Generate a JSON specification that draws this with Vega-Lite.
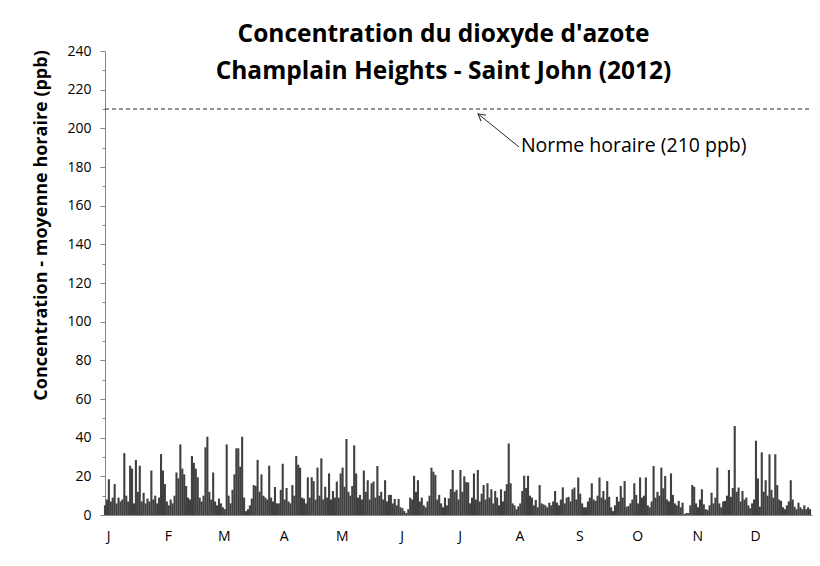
{
"$schema":"https://vega.github.io/schema/vega-lite/v6.json",
"width":707,"height":464,
"autosize":{"type":"none"},
"padding":{"left":105,"top":51,"right":8,"bottom":51},
"background":"white",
"config":{"view":{"stroke":null},"font":"Open Sans","axis":{"labelOverlap":false,"grid":false,"ticks":true}},
"title":{"text":["Concentration du dioxyde d'azote","Champlain Heights - Saint John (2012)"],"font":"Open Sans","fontSize":24.5,"fontWeight":"bold","color":"#000000","anchor":"middle","dx":-15,"dy":44,"lineHeight":37},
"encoding":{
"x":{"field":"d","type":"quantitative","scale":{"domain":[1,367],"nice":false,"zero":false},
"axis":{"title":null,"values":[1,32,61,92,122,153,183,214,245,275,306,336],"labelExpr":"['J','F','M','A','M','J','J','A','S','O','N','D'][indexof([1,32,61,92,122,153,183,214,245,275,306,336], datum.value)]","ticks":false,"domainColor":"#868686","labelFontSize":14,"labelPadding":14,"labelOffset":3,"labelColor":"#000000","labelFlush":false}},
"y":{"field":"v","type":"quantitative","scale":{"domain":[0,240],"nice":false},
"axis":{"title":"Concentration - moyenne horaire (ppb)","titleFontSize":18,"titleFontWeight":"bold","titleColor":"#000000","titlePadding":16,"titleY":174,"values":[0,10,20,30,40,50,60,70,80,90,100,110,120,130,140,150,160,170,180,190,200,210,220,230,240],"labelExpr":"datum.value % 20 === 0 ? datum.label : ''","domainColor":"#868686","tickColor":"#868686","tickSize":{"condition":{"test":"datum.value % 20 === 0","value":5},"value":3},"tickWidth":1,"labelFontSize":14,"labelPadding":9,"labelColor":"#000000"}}
},
"layer":[
{"data":{"values":[
{"d":1,"v":5},{"d":2,"v":8},{"d":3,"v":18.5},{"d":4,"v":7},{"d":5,"v":9},{"d":6,"v":16},{"d":7,"v":6},{"d":8,"v":9},{"d":9,"v":7},{"d":10,"v":8},{"d":11,"v":32},{"d":12,"v":10},{"d":13,"v":7},{"d":14,"v":25.5},{"d":15,"v":24},{"d":16,"v":6},{"d":17,"v":28.5},{"d":18,"v":12},{"d":19,"v":25.5},{"d":20,"v":7},{"d":21,"v":11.5},{"d":22,"v":6},{"d":23,"v":8.5},{"d":24,"v":7},{"d":25,"v":23},{"d":26,"v":8},{"d":27,"v":10},{"d":28,"v":6},{"d":29,"v":9},{"d":30,"v":31.5},{"d":31,"v":23},
{"d":32,"v":16},{"d":33,"v":7},{"d":34,"v":5},{"d":35,"v":8},{"d":36,"v":6},{"d":37,"v":10},{"d":38,"v":22},{"d":39,"v":19},{"d":40,"v":36.5},{"d":41,"v":24},{"d":42,"v":21},{"d":43,"v":15},{"d":44,"v":9},{"d":45,"v":8},{"d":46,"v":30.5},{"d":47,"v":27},{"d":48,"v":24},{"d":49,"v":19.5},{"d":50,"v":9},{"d":51,"v":7},{"d":52,"v":10},{"d":53,"v":35},{"d":54,"v":40.5},{"d":55,"v":12},{"d":56,"v":8},{"d":57,"v":22},{"d":58,"v":7},{"d":59,"v":5},{"d":60,"v":8.5},
{"d":61,"v":6},{"d":62,"v":4},{"d":63,"v":3},{"d":64,"v":36.5},{"d":65,"v":10},{"d":66,"v":6},{"d":67,"v":13},{"d":68,"v":21},{"d":69,"v":34.5},{"d":70,"v":34.5},{"d":71,"v":25},{"d":72,"v":40.5},{"d":73,"v":9},{"d":74,"v":2},{"d":75,"v":3},{"d":76,"v":5},{"d":77,"v":8.5},{"d":78,"v":15.5},{"d":79,"v":15},{"d":80,"v":28.5},{"d":81,"v":12},{"d":82,"v":21},{"d":83,"v":10},{"d":84,"v":9},{"d":85,"v":8},{"d":86,"v":25.5},{"d":87,"v":9},{"d":88,"v":7},{"d":89,"v":14.5},{"d":90,"v":6},{"d":91,"v":6},
{"d":92,"v":13},{"d":93,"v":26.5},{"d":94,"v":8},{"d":95,"v":14},{"d":96,"v":7},{"d":97,"v":6},{"d":98,"v":15.5},{"d":99,"v":10},{"d":100,"v":30.5},{"d":101,"v":26},{"d":102,"v":24.5},{"d":103,"v":9},{"d":104,"v":8.5},{"d":105,"v":6},{"d":106,"v":19.5},{"d":107,"v":9},{"d":108,"v":19.5},{"d":109,"v":17.5},{"d":110,"v":8},{"d":111,"v":24.5},{"d":112,"v":10},{"d":113,"v":29.3},{"d":114,"v":8},{"d":115,"v":14.6},{"d":116,"v":9},{"d":117,"v":21.5},{"d":118,"v":8},{"d":119,"v":12.4},{"d":120,"v":9},{"d":121,"v":17.3},
{"d":122,"v":9},{"d":123,"v":21.5},{"d":124,"v":24.5},{"d":125,"v":14.6},{"d":126,"v":39.3},{"d":127,"v":12},{"d":128,"v":10},{"d":129,"v":15},{"d":130,"v":36},{"d":131,"v":21.5},{"d":132,"v":9},{"d":133,"v":10.4},{"d":134,"v":8},{"d":135,"v":23},{"d":136,"v":12},{"d":137,"v":18},{"d":138,"v":8},{"d":139,"v":16.4},{"d":140,"v":17.3},{"d":141,"v":9},{"d":142,"v":25.3},{"d":143,"v":10},{"d":144,"v":12},{"d":145,"v":8},{"d":146,"v":18},{"d":147,"v":7},{"d":148,"v":10.4},{"d":149,"v":10.4},{"d":150,"v":6},{"d":151,"v":8.3},{"d":152,"v":5},
{"d":153,"v":8.3},{"d":154,"v":4},{"d":155,"v":3.5},{"d":156,"v":2},{"d":157,"v":1},{"d":158,"v":3},{"d":159,"v":9},{"d":160,"v":8},{"d":161,"v":20.3},{"d":162,"v":12},{"d":163,"v":18},{"d":164,"v":7},{"d":165,"v":9},{"d":166,"v":5},{"d":167,"v":4},{"d":168,"v":7},{"d":169,"v":10},{"d":170,"v":24.5},{"d":171,"v":22.4},{"d":172,"v":20.7},{"d":173,"v":8},{"d":174,"v":10.4},{"d":175,"v":6},{"d":176,"v":4},{"d":177,"v":9},{"d":178,"v":5},{"d":179,"v":8.6},{"d":180,"v":13.4},{"d":181,"v":23.3},{"d":182,"v":12},
{"d":183,"v":13},{"d":184,"v":8},{"d":185,"v":23.3},{"d":186,"v":12},{"d":187,"v":20},{"d":188,"v":17},{"d":189,"v":16.8},{"d":190,"v":6},{"d":191,"v":9},{"d":192,"v":21.5},{"d":193,"v":8},{"d":194,"v":23.3},{"d":195,"v":7},{"d":196,"v":11},{"d":197,"v":15.5},{"d":198,"v":8},{"d":199,"v":16.4},{"d":200,"v":9},{"d":201,"v":13.3},{"d":202,"v":6},{"d":203,"v":12.4},{"d":204,"v":9},{"d":205,"v":5},{"d":206,"v":13.3},{"d":207,"v":7},{"d":208,"v":12.4},{"d":209,"v":16},{"d":210,"v":37},{"d":211,"v":16.4},{"d":212,"v":6},{"d":213,"v":5},
{"d":214,"v":3},{"d":215,"v":4.5},{"d":216,"v":6},{"d":217,"v":12.4},{"d":218,"v":20.3},{"d":219,"v":14},{"d":220,"v":20.3},{"d":221,"v":10},{"d":222,"v":9},{"d":223,"v":5},{"d":224,"v":7.8},{"d":225,"v":4},{"d":226,"v":15.5},{"d":227,"v":6},{"d":228,"v":5.5},{"d":229,"v":5},{"d":230,"v":4},{"d":231,"v":6.4},{"d":232,"v":5},{"d":233,"v":7},{"d":234,"v":12.4},{"d":235,"v":6.4},{"d":236,"v":5},{"d":237,"v":8},{"d":238,"v":14.3},{"d":239,"v":6},{"d":240,"v":9},{"d":241,"v":9.4},{"d":242,"v":7},{"d":243,"v":13.3},{"d":244,"v":14.2},
{"d":245,"v":8},{"d":246,"v":19.4},{"d":247,"v":11},{"d":248,"v":6},{"d":249,"v":4},{"d":250,"v":4},{"d":251,"v":7},{"d":252,"v":9},{"d":253,"v":16.4},{"d":254,"v":8},{"d":255,"v":7.3},{"d":256,"v":10},{"d":257,"v":19.4},{"d":258,"v":9},{"d":259,"v":12.4},{"d":260,"v":8},{"d":261,"v":17.6},{"d":262,"v":9.4},{"d":263,"v":4},{"d":264,"v":2},{"d":265,"v":5},{"d":266,"v":9.4},{"d":267,"v":7},{"d":268,"v":15},{"d":269,"v":9},{"d":270,"v":17.6},{"d":271,"v":4.3},{"d":272,"v":4.6},{"d":273,"v":6},{"d":274,"v":8},
{"d":275,"v":16.4},{"d":276,"v":10.4},{"d":277,"v":6},{"d":278,"v":19.4},{"d":279,"v":9},{"d":280,"v":10},{"d":281,"v":19.4},{"d":282,"v":5},{"d":283,"v":4},{"d":284,"v":7},{"d":285,"v":25.3},{"d":286,"v":9},{"d":287,"v":12},{"d":288,"v":10},{"d":289,"v":24.5},{"d":290,"v":13.8},{"d":291,"v":20.2},{"d":292,"v":8},{"d":293,"v":7},{"d":294,"v":21.5},{"d":295,"v":10.4},{"d":296,"v":6},{"d":297,"v":5},{"d":298,"v":7.3},{"d":299,"v":4},{"d":300,"v":6.4},{"d":301,"v":0.5},{"d":302,"v":1},{"d":303,"v":1},{"d":304,"v":5},{"d":305,"v":15.5},
{"d":306,"v":14.6},{"d":307,"v":6},{"d":308,"v":4},{"d":309,"v":8},{"d":310,"v":13.3},{"d":311,"v":5.5},{"d":312,"v":3},{"d":313,"v":2.6},{"d":314,"v":5},{"d":315,"v":11.5},{"d":316,"v":6},{"d":317,"v":9},{"d":318,"v":24.5},{"d":319,"v":6},{"d":320,"v":4},{"d":321,"v":7},{"d":322,"v":7.3},{"d":323,"v":10},{"d":324,"v":23.3},{"d":325,"v":9.4},{"d":326,"v":14},{"d":327,"v":46},{"d":328,"v":12},{"d":329,"v":14.2},{"d":330,"v":7},{"d":331,"v":12.4},{"d":332,"v":8},{"d":333,"v":9},{"d":334,"v":5},{"d":335,"v":3.5},
{"d":336,"v":6},{"d":337,"v":8},{"d":338,"v":38.4},{"d":339,"v":18.9},{"d":340,"v":4.3},{"d":341,"v":32.4},{"d":342,"v":12},{"d":343,"v":18},{"d":344,"v":10},{"d":345,"v":31.4},{"d":346,"v":13},{"d":347,"v":9},{"d":348,"v":31.4},{"d":349,"v":15.5},{"d":350,"v":8},{"d":351,"v":7.3},{"d":352,"v":4},{"d":353,"v":3},{"d":354,"v":5},{"d":355,"v":7},{"d":356,"v":18},{"d":357,"v":8},{"d":358,"v":4.3},{"d":359,"v":3},{"d":360,"v":6.4},{"d":361,"v":4},{"d":362,"v":3},{"d":363,"v":5},{"d":364,"v":3},{"d":365,"v":4},{"d":366,"v":3}
]},
"mark":{"type":"rule","color":"#404040","strokeWidth":2.1},
"encoding":{"y2":{"datum":0}}},
{"data":{"values":[{"d":1,"d2":367,"v":210}]},"mark":{"type":"rule","strokeDash":[4,3],"color":"#262626","strokeWidth":1},"encoding":{"x2":{"field":"d2"}}},
{"data":{"values":[{"d":215.3,"v":190.4,"d2":194.1,"v2":207.5}]},
"mark":{"type":"rule","color":"#262626","strokeWidth":1},
"encoding":{"x2":{"field":"d2"},"y2":{"field":"v2"}}},
{"data":{"values":[{"d":194.1,"v":207.5}]},
"mark":{"type":"point","shape":"M-1,-0.55L0,0L-1,0.55","filled":false,"stroke":"#262626","strokeWidth":1,"size":200,"angle":218.8,"opacity":1},
"encoding":{}},
{"data":{"values":[{"d":216.3,"v":191,"label":"Norme horaire (210 ppb)"}]},
"mark":{"type":"text","align":"left","baseline":"middle","fontSize":19.5,"color":"#000000"},
"encoding":{"text":{"field":"label"}}}
]
}
